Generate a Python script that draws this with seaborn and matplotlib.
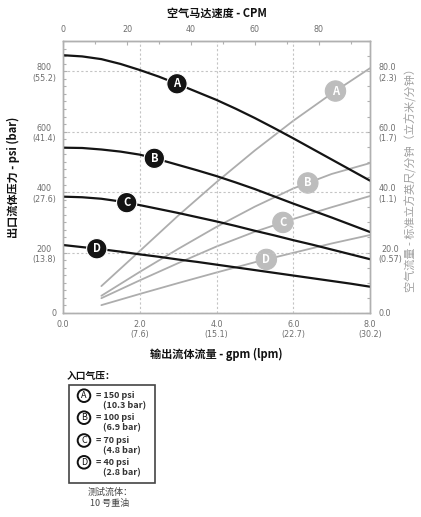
import numpy as np
import pandas as pd
import matplotlib
matplotlib.use("Agg")
import matplotlib.pyplot as plt
from matplotlib.ticker import MultipleLocator
import seaborn as sns

sns.set_style("white")
plt.rcParams['font.family'] = ['Noto Sans CJK SC', 'DejaVu Sans']

# ---- data ----
gpm = [0, 0.5, 1, 1.5, 2, 2.5, 3, 3.5, 4, 4.5, 5, 5.5, 6, 6.5, 7, 7.5, 8]
psi_A = [853, 849, 840, 824, 804, 782, 757, 731, 705, 676, 645, 612, 578, 543, 508, 473, 438]
psi_B = [547, 546, 541, 534, 524, 508, 490, 472, 453, 432, 410, 386, 362, 339, 316, 292, 268]
psi_C = [385, 383, 378, 369, 357, 344, 331, 317, 303, 288, 272, 257, 241, 226, 210, 194, 178]
psi_D = [225, 218, 211, 203, 194, 186, 177, 169, 160, 151, 142, 133, 124, 115, 106, 97, 87]

air_gpm = [1, 2, 3, 4, 5, 6, 7, 8]
scfm_A = [8.9, 20.5, 32.2, 43.3, 53.8, 63.6, 72.6, 81.0]
scfm_B = [5.7, 13.6, 21.2, 28.5, 35.2, 41.2, 46.0, 49.6]
scfm_C = [4.9, 10.8, 16.5, 22.0, 26.9, 31.1, 35.0, 38.7]
scfm_D = [2.6, 6.3, 9.9, 13.4, 16.8, 19.9, 23.0, 25.8]

curves = ['A', 'B', 'C', 'D']
black_lbl_x = [2.97, 2.38, 1.66, 0.88]
gray_lbl_x = [7.1, 6.38, 5.73, 5.3]

x_ticks = [0, 2, 4, 6, 8]
x_ticklabels = ['0.0', '2.0\n(7.6)', '4.0\n(15.1)', '6.0\n(22.7)', '8.0\n(30.2)']
y_ticks = [0, 200, 400, 600, 800]
y_ticklabels = ['0', '200\n(13.8)', '400\n(27.6)', '600\n(41.4)', '800\n(55.2)']
r_ticks = [0, 20, 40, 60, 80]
r_ticklabels = ['0.0', '20.0\n(0.57)', '40.0\n(1.1)', '60.0\n(1.7)', '80.0\n(2.3)']
top_ticks = [0, 20, 40, 60, 80]

legend_pressures = ['= 150 psi', '= 100 psi', '= 70 psi', '= 40 psi']
legend_bars = ['(10.3 bar)', '(6.9 bar)', '(4.8 bar)', '(2.8 bar)']

psi_df = pd.DataFrame({
    'gpm': gpm * 4,
    'psi': psi_A + psi_B + psi_C + psi_D,
    'curve': sum([[c] * len(gpm) for c in curves], []),
})
air_df = pd.DataFrame({
    'gpm': air_gpm * 4,
    'scfm': scfm_A + scfm_B + scfm_C + scfm_D,
    'curve': sum([[c] * len(air_gpm) for c in curves], []),
})

W, H = 421, 517
fig = plt.figure(figsize=(W / 100, H / 100), dpi=100)
ax = fig.add_axes([63 / W, 1 - 313 / H, (370 - 63) / W, (313 - 41) / H])
ax2 = ax.twinx()

BLACK = '#141414'
GRAY = '#adadad'
TICKC = '#6e6e6e'
SPINE = '#b0b0b0'
TICKFONT = ['DejaVu Sans']

sns.lineplot(data=air_df, x='gpm', y='scfm', hue='curve', ax=ax2,
             palette={c: GRAY for c in curves}, linewidth=1.3, legend=False)
sns.lineplot(data=psi_df, x='gpm', y='psi', hue='curve', ax=ax,
             palette={c: BLACK for c in curves}, linewidth=1.6, legend=False)

ax.set_zorder(ax2.get_zorder() + 1)
ax.patch.set_visible(False)

ax.set_xlim(0, 8)
ax.set_ylim(0, 900)
ax2.set_ylim(0, 90)

ax.set_xticks(x_ticks)
ax.set_xticklabels(x_ticklabels)
ax.set_yticks(y_ticks)
ax.set_yticklabels(y_ticklabels)
ax.xaxis.set_minor_locator(MultipleLocator(0.2))
ax.yaxis.set_minor_locator(MultipleLocator(25))
ax2.set_yticks(r_ticks)
ax2.set_yticklabels(r_ticklabels)
ax2.yaxis.set_minor_locator(MultipleLocator(5))

for a in (ax, ax2):
    a.tick_params(which='both', direction='in', colors=SPINE, labelcolor=TICKC,
                  labelsize=5.8, length=3, width=0.8)
    a.tick_params(which='minor', length=2)
    for s in a.spines.values():
        s.set_color(SPINE)
        s.set_linewidth(1.0)
ax.tick_params(axis='y', pad=5)
ax.tick_params(axis='x', pad=5)
ax2.tick_params(axis='y', pad=6)
for t in ax.get_yticklabels() + ax.get_xticklabels() + ax2.get_yticklabels():
    t.set_multialignment('center')
    t.set_family(TICKFONT)

ax.grid(True, which='major', linestyle=(0, (2, 2)), color='#c4c4c4', linewidth=0.8)
ax2.grid(False)

ax.set_xlabel('输出流体流量 - gpm (lpm)', fontsize=8, fontweight='bold', color='#111111', labelpad=6)
ax.set_ylabel('出口流体压力 - psi (bar)', fontsize=8, fontweight='bold', color='#111111', labelpad=9)
ax2.set_ylabel('空气流量 - 标准立方英尺/分钟（立方米/分钟）', fontsize=8, color='#a0a0a0', labelpad=2)

sec = ax.secondary_xaxis('top', functions=(lambda x: x * 12, lambda x: x / 12))
sec.set_xticks(top_ticks)
sec.xaxis.set_minor_locator(MultipleLocator(10))
sec.tick_params(which='both', direction='in', colors=SPINE, labelcolor=TICKC,
                labelsize=5.8, length=3, width=0.8, pad=5)
sec.tick_params(which='minor', length=2)
sec.spines['top'].set_color(SPINE)
for t in sec.get_xticklabels():
    t.set_family(TICKFONT)
sec.set_xlabel('空气马达速度 - CPM', fontsize=8, fontweight='bold', color='#111111', labelpad=6)

# curve labels
psi_map = {'A': psi_A, 'B': psi_B, 'C': psi_C, 'D': psi_D}
air_map = {'A': scfm_A, 'B': scfm_B, 'C': scfm_C, 'D': scfm_D}
for c, xl in zip(curves, black_lbl_x):
    yl = np.interp(xl, gpm, psi_map[c])
    ax.text(xl, yl, c, ha='center', va='center', color='white', fontsize=8,
            fontweight='bold', zorder=5,
            bbox=dict(boxstyle='circle,pad=0.33', fc=BLACK, ec='white', lw=0.8))
for c, xl in zip(curves, gray_lbl_x):
    yl = np.interp(xl, air_gpm, air_map[c])
    ax2.text(xl, yl, c, ha='center', va='center', color='white', fontsize=8,
             fontweight='bold', zorder=5,
             bbox=dict(boxstyle='circle,pad=0.33', fc='#bdbdbd', ec='#bdbdbd', lw=0.8))

# legend block
def fx(px):
    return px / W

def fy(py):
    return 1 - py / H

fig.text(fx(67), fy(376), '入口气压：', fontsize=7, fontweight='bold', color='#111111',
         ha='left', va='center')
fig.add_artist(plt.Rectangle((fx(68.5), fy(483)), fx(155) - fx(68.5), fy(385) - fy(483),
                             transform=fig.transFigure, fill=False, ec='#444444', lw=1.2))
circle_y = [395.7, 417.7, 440.5, 462.3]
for c, cy, p, b in zip(curves, circle_y, legend_pressures, legend_bars):
    fig.text(fx(84), fy(cy), c, fontsize=6.5, color='#111111', ha='center', va='center',
             bbox=dict(boxstyle='circle,pad=0.2', fc='white', ec='#111111', lw=1.4))
    fig.text(fx(96), fy(cy), p, fontsize=6.5, fontweight='bold', color='#333333',
             ha='left', va='center')
    fig.text(fx(103), fy(cy + 10.5), b, fontsize=6.5, fontweight='bold', color='#333333',
             ha='left', va='center')

fig.text(fx(110), fy(492), '测试流体：', fontsize=6.5, color='#444444', ha='center', va='center')
fig.text(fx(110), fy(503), '10 号重油', fontsize=6.5, color='#444444', ha='center', va='center')

fig.savefig('out.png', dpi=100)
